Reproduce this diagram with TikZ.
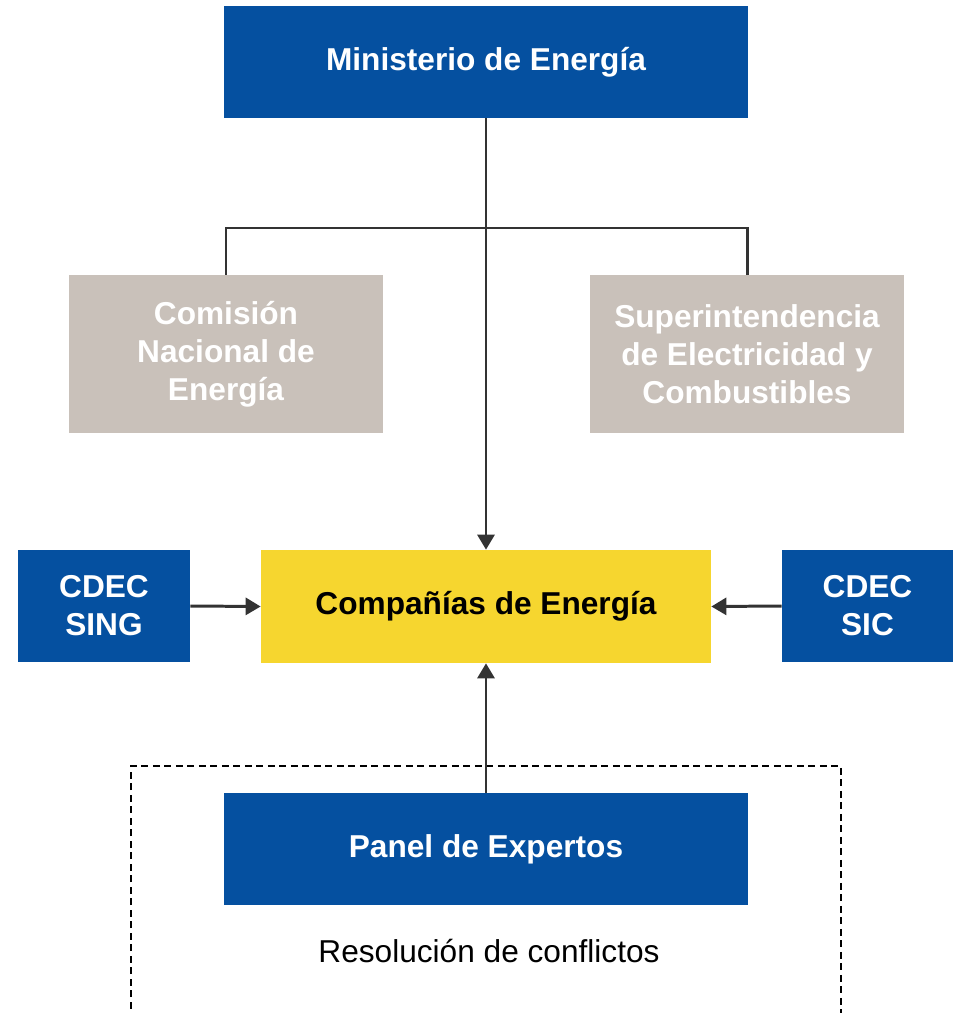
\documentclass[tikz,border=0pt]{standalone}
\usepackage{fontspec}
\setmainfont{Liberation Sans}
\usetikzlibrary{arrows.meta}
\definecolor{azul}{HTML}{0550A0}
\definecolor{gris}{HTML}{C9C1BA}
\definecolor{amarillo}{HTML}{F6D62F}
\definecolor{linea}{HTML}{333333}
\tikzset{
  caja/.style={rectangle, inner sep=0pt, align=center, text=white,
    font=\fontsize{18}{21.6}\selectfont\bfseries},
  cajaazul/.style={caja, fill=azul, minimum height=2.24cm},
  cajagris/.style={caja, fill=gris, minimum width=6.28cm, minimum height=3.16cm},
  conector/.style={draw=linea, line width=1.7pt},
  flecha/.style={conector, -{Triangle[length=0.3cm,width=0.34cm]}},
}
\begin{document}
\begin{tikzpicture}
            \useasboundingbox (0,0) rectangle (19.06,-20.26);
            \node[cajaazul, minimum width=10.48cm] (min) at (9.72,-1.24) {Ministerio de Energía};
            \node[cajagris] (cne) at (4.52,-7.08) {Comisión\\Nacional de\\Energía};
            \node[cajagris] (sec) at (14.94,-7.08) {Superintendencia\\de Electricidad y\\Combustibles};
            \node[caja, fill=amarillo, text=black, minimum width=9cm, minimum height=2.26cm] (comp) at (9.72,-12.13) {Compañías de Energía};
            \node[cajaazul, minimum width=3.44cm] (sing) at (2.08,-12.12) {CDEC\\SING};
            \node[cajaazul, minimum width=3.42cm] (sic) at (17.35,-12.12) {CDEC\\SIC};
            \node[cajaazul, minimum width=10.48cm] (panel) at (9.72,-16.98) {Panel de Expertos};
            \node[font=\fontsize{18}{21.6}\selectfont] (res) at (9.78,-19.02) {Resolución de conflictos};

            % recuadro abierto por abajo
            \coordinate (dA) at (2.62,-20.4); \coordinate (dB) at (2.62,-15.32);
            \coordinate (dC) at (16.82,-15.32); \coordinate (dD) at (16.82,-20.4);
            \draw[black, line width=0.85pt, dash pattern=on 0.14cm off 0.09cm] (dA) -- (dB) -- (dC) -- (dD);

            \coordinate (rama) at (9.72,-4.56);
            \draw[conector] (cne.north) |- (rama) -| (sec.north);
            \draw[flecha] (min.south) -- (comp.north);
            \draw[flecha] (sing.east) -- (comp.west);
            \draw[flecha] (sic.west) -- (comp.east);
            \draw[flecha] (panel.north) -- (comp.south);
        \end{tikzpicture}
\end{document}
